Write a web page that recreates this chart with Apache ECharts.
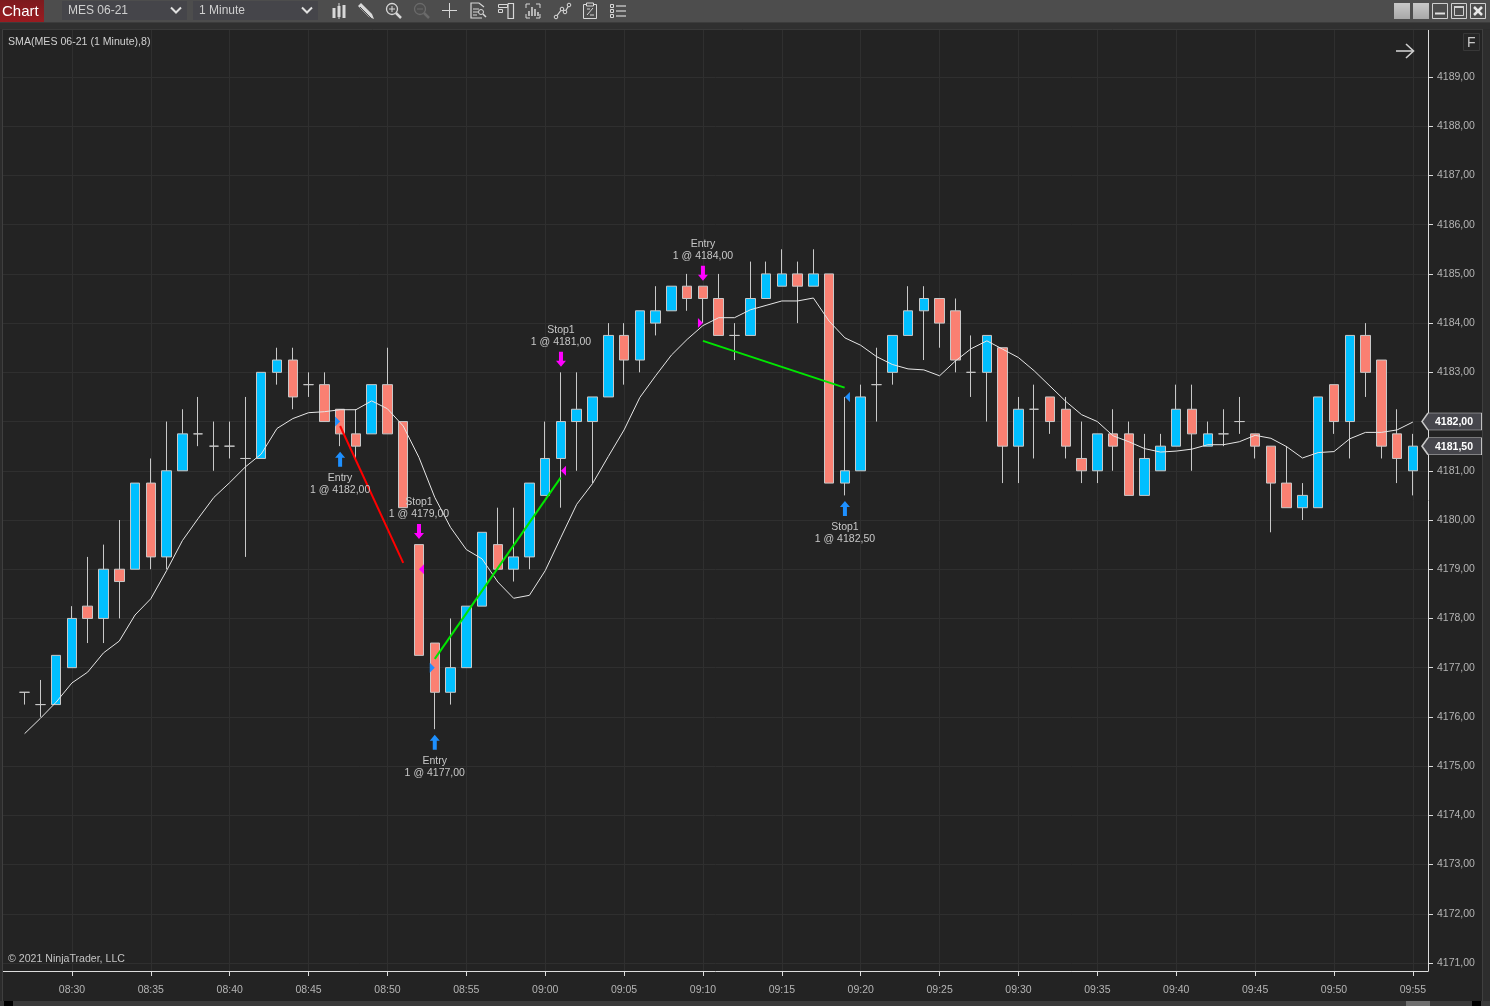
<!DOCTYPE html>
<html>
<head>
<meta charset="utf-8">
<style>html,body{margin:0;padding:0;background:#232323;overflow:hidden}#c{width:1490px;height:1006px}</style>
<script src="https://cdn.jsdelivr.net/npm/echarts@6/dist/echarts.min.js"></script>
</head>
<body>
<div id="c"></div>
<script>
const times = ["08:27","08:28","08:29","08:30","08:31","08:32","08:33","08:34","08:35","08:36","08:37","08:38","08:39","08:40","08:41","08:42","08:43","08:44","08:45","08:46","08:47","08:48","08:49","08:50","08:51","08:52","08:53","08:54","08:55","08:56","08:57","08:58","08:59","09:00","09:01","09:02","09:03","09:04","09:05","09:06","09:07","09:08","09:09","09:10","09:11","09:12","09:13","09:14","09:15","09:16","09:17","09:18","09:19","09:20","09:21","09:22","09:23","09:24","09:25","09:26","09:27","09:28","09:29","09:30","09:31","09:32","09:33","09:34","09:35","09:36","09:37","09:38","09:39","09:40","09:41","09:42","09:43","09:44","09:45","09:46","09:47","09:48","09:49","09:50","09:51","09:52","09:53","09:54","09:55"];
const opens = [4176.5,4176.25,4176.25,4177,4178.25,4178,4179,4179,4180.75,4179.25,4181,4181.75,4181.5,4181.5,4181.25,4181.25,4183,4183.25,4182.75,4182.75,4182.25,4181.75,4181.75,4182.75,4182,4179.5,4177.5,4176.5,4177,4178.25,4179.5,4179,4179.25,4180.5,4181.25,4182,4182,4182.5,4183.75,4183.25,4184,4184.25,4184.75,4184.75,4184.5,4183.75,4183.75,4184.5,4184.75,4185,4184.75,4185,4180.75,4181,4182.75,4183,4183.75,4184.25,4184.5,4184.25,4183,4183,4183.5,4181.5,4182.25,4182.5,4182.25,4181.25,4181,4181.75,4181.75,4180.5,4181,4181.5,4182.25,4181.5,4181.75,4182,4181.75,4181.5,4180.75,4180.25,4180.25,4182.75,4182,4183.75,4183.25,4181.75,4181];
const closes = [4176.5,4176.25,4177.25,4178,4178,4179,4178.75,4180.75,4179.25,4181,4181.75,4181.75,4181.5,4181.5,4181.25,4183,4183.25,4182.5,4182.75,4182,4181.75,4181.5,4182.75,4181.75,4180.25,4177.25,4176.5,4177,4178.25,4179.75,4179,4179.25,4180.75,4181.25,4182,4182.25,4182.5,4183.75,4183.25,4184.25,4184.25,4184.75,4184.5,4184.5,4183.75,4183.75,4184.5,4185,4185,4184.75,4185,4180.75,4181,4182.5,4182.75,4183.75,4184.25,4184.5,4184,4183.25,4183,4183.75,4181.5,4182.25,4182.25,4182,4181.5,4181,4181.75,4181.5,4180.5,4181.25,4181.5,4182.25,4181.75,4181.75,4181.75,4182,4181.5,4180.75,4180.25,4180.5,4182.5,4182,4183.75,4183,4181.5,4181.25,4181.5];
const highs = [4176.5,4176.75,4177.25,4178.25,4179.25,4179.5,4180,4180.75,4181.25,4182,4182.25,4182.5,4182,4182,4182.5,4183,4183.5,4183.5,4183,4183,4182.25,4182.25,4182.75,4183.5,4182,4179.5,4177.5,4178,4178.25,4179.75,4180.25,4180.25,4180.75,4182,4183,4183,4182.5,4184,4184,4184.25,4184.75,4184.75,4185,4184.75,4185,4184,4185.25,4185.25,4185.5,4185.25,4185.5,4185,4182.5,4182.75,4183.5,4183.75,4184.75,4184.75,4184.5,4184.5,4183.75,4183.75,4183.5,4182.5,4182.75,4182.5,4182.5,4182,4181.75,4182.25,4182,4181.75,4181.75,4182.75,4182.75,4182,4182.25,4182.5,4181.75,4181.5,4181.5,4180.75,4182.5,4182.75,4183.75,4184,4183.25,4182.25,4181.75];
const lows = [4176.25,4176,4176.25,4177,4177.5,4177.5,4178,4179,4179,4179,4181,4181.5,4181,4181.25,4179.25,4181.25,4182.75,4182.25,4182.5,4182,4181.5,4181.25,4181.75,4181.75,4180.25,4177.25,4175.75,4176.25,4177,4178.25,4179,4178.75,4179,4180.5,4180.25,4181,4180.75,4182.5,4182.75,4183,4183.75,4184.25,4184.25,4184,4183.75,4183.25,4183.75,4184.5,4184.75,4184,4184.75,4180.75,4180.5,4181,4182,4182.75,4183.75,4183.25,4183.5,4183,4182.5,4182,4180.75,4180.75,4181.25,4181.75,4181.25,4180.75,4180.75,4181,4180.5,4180.5,4181,4181.5,4181,4181.5,4181.5,4181.75,4181.25,4179.75,4180.25,4180,4180.25,4181.75,4181.25,4182.5,4181.25,4180.75,4180.5];
const sma = [4175.66,4175.97,4176.3,4176.69,4176.91,4177.3,4177.54,4178.07,4178.4,4178.97,4179.58,4180.03,4180.46,4180.76,4181.08,4181.34,4181.86,4182.06,4182.18,4182.2,4182.24,4182.24,4182.42,4182.26,4181.91,4181.27,4180.46,4179.85,4179.4,4179.21,4178.74,4178.41,4178.47,4178.97,4179.65,4180.32,4180.74,4181.29,4181.83,4182.49,4182.93,4183.35,4183.67,4183.95,4184.11,4184.11,4184.27,4184.36,4184.45,4184.45,4184.51,4184.04,4183.7,4183.55,4183.32,4183.16,4183.07,4183.05,4182.93,4183.23,4183.48,4183.64,4183.47,4183.3,4183.03,4182.72,4182.41,4182.14,4182,4181.71,4181.59,4181.45,4181.38,4181.4,4181.44,4181.53,4181.53,4181.59,4181.72,4181.66,4181.49,4181.26,4181.37,4181.39,4181.65,4181.78,4181.78,4181.83,4181.99];

const priceTicks = [4171,4172,4173,4174,4175,4176,4177,4178,4179,4180,4181,4182,4183,4184,4185,4186,4187,4188,4189];
const timeTicks = ["08:30","08:35","08:40","08:45","08:50","08:55","09:00","09:05","09:10","09:15","09:20","09:25","09:30","09:35","09:40","09:45","09:50","09:55"];

const execBars = [20,25,26,34,43,52];
const execPrices = [4182,4179,4177,4181,4184,4182.5];
const execNames = ["Entry","Stop1","Entry","Stop1","Entry","Stop1"];
const execBuys = [true,false,true,false,false,true];

const tradeLineX = [[20,24],[26,33.98],[43,51.98]];
const tradeLineY = [[4181.91,4179.13],[4177.18,4180.86],[4183.64,4182.69]];
const tradeLineColors = ["#ff0000","#00e600","#00e600"];

const lastMarkers = [4182,4181.5];

const xMin = -1.369, xMax = 88.96, yMin = 4170.8375, yMax = 4189.955;
const fmt = v => v.toFixed(2).replace('.', ',');
const FONT = '"Liberation Sans", Arial, sans-serif';
const ARROW = 'path://M5 0L10 6L7 6L7 15L3 15L3 6L0 6Z';
const TRI_R = 'path://M0 0L5 5L0 10Z';
const TRI_L = 'path://M5 0L0 5L5 10Z';
const BUY = '#1e90ff', SELL = '#ff00ff';

const xIdx = times.map((t, i) => i);
const candle = xIdx.map(i => [i, opens[i], closes[i], lows[i], highs[i]]);

const arrowData = execBars.map((b, k) => ({
  value: [b, execBuys[k] ? lows[b] : highs[b]],
  symbolRotate: execBuys[k] ? 0 : 180,
  symbolOffset: [0, execBuys[k] ? 13 : -13],
  itemStyle: {color: execBuys[k] ? BUY : SELL, opacity: 1},
  label: {
    show: true,
    position: execBuys[k] ? 'bottom' : 'top',
    distance: execBuys[k] ? 5 : 4,
    formatter: execNames[k] + '\n1 @ ' + fmt(execPrices[k]),
    color: '#c8c8c8', fontSize: 10.5, lineHeight: 12, fontFamily: FONT, align: 'center'
  }
}));
const triData = execBars.map((b, k) => {
  const entry = execNames[k] === 'Entry';
  return {
    value: [b, execPrices[k]],
    symbol: entry ? TRI_R : TRI_L,
    symbolOffset: [entry ? -2.5 : 2.5, 0],
    itemStyle: {color: execBuys[k] ? BUY : SELL, opacity: 1}
  };
});

const lineSeries = tradeLineX.map((xs, k) => ({
  type: 'line', data: [[xs[0], tradeLineY[k][0]], [xs[1], tradeLineY[k][1]]],
  showSymbol: false, symbol: 'none', silent: true, z: 6,
  lineStyle: {color: tradeLineColors[k], width: 2}
}));

const TAG = 'path://M0 8.5L6 0L60 0L60 17L6 17Z';
const tagSeries = {
  type: 'scatter', clip: false, silent: true, z: 8,
  symbol: TAG, symbolSize: [60, 17], symbolOffset: [24, 0],
  itemStyle: {color: '#46464c', borderColor: '#c8c8c8', borderWidth: 1, opacity: 1},
  data: lastMarkers.map(p => ({
    value: [xMax, p],
    label: {show: true, position: 'inside', offset: [2, 1], formatter: fmt(p), color: '#fff', fontWeight: 'bold', fontSize: 10.5, fontFamily: FONT}
  }))
};

/* ---------- chrome (toolbar, frame) ---------- */
const ln = (x1,y1,x2,y2,c,w) => ({type:'line',silent:true,shape:{x1,y1,x2,y2},style:{stroke:c||'#d0d0d0',lineWidth:w||1}});
const rc = (x,y,width,height,fill,stroke) => ({type:'rect',silent:true,shape:{x,y,width,height},style:{fill:fill||'none',stroke:stroke||'none',lineWidth:1}});
const pl = (points,c,w) => ({type:'polyline',silent:true,shape:{points},style:{stroke:c||'#d0d0d0',lineWidth:w||1,fill:'none'}});
const pg = (points,f,c) => ({type:'polygon',silent:true,shape:{points},style:{fill:f,stroke:c||'none',lineWidth:1}});
const tx = (x,y,text,color,size,extra) => ({type:'text',silent:true,x,y,style:Object.assign({text,fill:color,font:size+'px '+FONT,verticalAlign:'middle'},extra||{})});
const I = '#d8d8d8';
const chrome = [
  rc(0,0,1490,22,'#4d4d4d'),
  rc(0,22,1490,1,'#3c3c3c'),
  rc(0,23,1490,6,'#303030'),
  rc(0,29,2,972,'#2b2b2b'),
  rc(1483,29,7,972,'#2d2d2d'),
  ln(2.5,29,2.5,1001,'#3f3f3f'),
  ln(2,29.5,1483,29.5,'#3a3a3a'),
  ln(1482.5,29,1482.5,1001,'#3f3f3f'),
  rc(0,1001,1490,5,'#3a3a3a'),
  rc(4,1001,9,5,'#000000'),
  rc(1406,1001,24,5,'#6e6e6e'),
  rc(1472,1001,9,5,'#000000'),
  {type:'rect',silent:true,shape:{x:0,y:0,width:44,height:22},style:{fill:{type:'linear',x:0,y:0,x2:0,y2:1,colorStops:[{offset:0,color:'#7c1a1e'},{offset:1,color:'#9a1b20'}]}}},
  tx(2,12,'Chart','#ffffff',15),
  rc(62,1,125,19,'#45454a'), tx(68,11,'MES 06-21','#cfcfcf',12),
  pl([[171,7.5],[176,12.5],[181,7.5]],'#e0e0e0',2),
  rc(193,1,125,19,'#45454a'), tx(199,11,'1 Minute','#cfcfcf',12),
  pl([[302,7.5],[307,12.5],[312,7.5]],'#e0e0e0',2),
  /* bars icon */
  ln(334,8,334,18,I,3), ln(339,3,339,19,I,1), ln(339,6,339,17,I,3), ln(344,5,344,18,I,3),
  /* pencil */
  pg([[358,6],[361,3],[372,14],[374,19],[369,17]],I),
  ln(360,7,371,18,'#4d4d4d',1),
  /* zoom in / out */
  {type:'circle',silent:true,shape:{cx:392,cy:9,r:5.5},style:{fill:'none',stroke:I,lineWidth:1.3}},
  ln(389,9,395,9,I), ln(392,6,392,12,I), ln(396,13,401,18,I,2.5),
  {type:'circle',silent:true,shape:{cx:420,cy:9,r:5.5},style:{fill:'none',stroke:'#6a6a6a',lineWidth:1.3}},
  ln(417,9,423,9,'#6a6a6a'), ln(424,13,429,18,'#6a6a6a',2.5),
  /* crosshair */
  ln(442,10.5,457,10.5,I), ln(449.5,3,449.5,18,I),
  /* data box */
  pl([[484,7],[479,3],[471,3],[471,18],[482,18]],I,1.2),
  ln(473,9,479,9,I), ln(473,12,478,12,I), ln(473,15,477,15,I),
  {type:'circle',silent:true,shape:{cx:481,cy:12,r:2.5},style:{fill:'none',stroke:I,lineWidth:1}}, ln(483,14,486,17,I,1.5),
  /* properties */
  rc(498.5,4.5,9,3,'none',I), rc(498.5,9.5,4,3,'none',I), pl([[508,3.5],[513.5,3.5],[513.5,18.5],[508,18.5],[508,3.5]],I,1.2),
  /* indicators */
  pl([[526,8],[526,4],[530,4]],I), pl([[526,14],[526,18],[530,18]],I), pl([[536,4],[540,4],[540,8]],I), pl([[536,18],[540,18],[540,14]],I),
  ln(529,11,529,16,I,1.5), ln(532,7,532,16,I,1.5), ln(535,9,535,16,I,1.5), ln(538,12,538,16,I,1.5),
  /* strategies */
  pl([[556,17],[562,9],[565,12],[569,5]],I,1.2),
  {type:'circle',silent:true,shape:{cx:556,cy:17,r:1.8},style:{fill:'#4d4d4d',stroke:I}},
  {type:'circle',silent:true,shape:{cx:562,cy:9,r:1.8},style:{fill:'#4d4d4d',stroke:I}},
  {type:'circle',silent:true,shape:{cx:565,cy:12,r:1.8},style:{fill:'#4d4d4d',stroke:I}},
  {type:'circle',silent:true,shape:{cx:569,cy:5,r:1.8},style:{fill:'#4d4d4d',stroke:I}},
  /* template */
  rc(583.5,4.5,13,14,'none',I), rc(586.5,3,7,3,'#4d4d4d',I), ln(587,15,593,8,I), ln(587,9,590,9,I), ln(590,15,594,15,I),
  /* list */
  rc(610.5,4.5,3,3,'none',I), rc(610.5,9.5,3,3,'none',I), rc(610.5,14.5,3,3,'none',I),
  ln(616,6,626,6,I,1.2), ln(616,11,626,11,I,1.2), ln(616,16,626,16,I,1.2),
  /* window buttons */
  {type:'rect',silent:true,shape:{x:1394,y:3,width:16,height:16},style:{fill:{type:'linear',x:0,y:0,x2:0,y2:1,colorStops:[{offset:0,color:'#c8c8c8'},{offset:1,color:'#a8a8a8'}]}}},
  {type:'rect',silent:true,shape:{x:1413,y:3,width:16,height:16},style:{fill:{type:'linear',x:0,y:0,x2:0,y2:1,colorStops:[{offset:0,color:'#c8c8c8'},{offset:1,color:'#a8a8a8'}]}}},
  rc(1432.5,3.5,15,15,'none','#d0d0d0'), ln(1435,13.5,1445,13.5,'#e0e0e0',2),
  rc(1451.5,3.5,15,15,'none','#d0d0d0'), rc(1454.5,6.5,9,9,'none','#d0d0d0'), ln(1454,7,1464,7,'#d0d0d0',2),
  rc(1470.5,3.5,15,15,'none','#d0d0d0'), ln(1474,7,1482,15,'#e8e8e8',2.5), ln(1482,7,1474,15,'#e8e8e8',2.5),
  /* chart overlays */
  tx(8,42,'SMA(MES 06-21 (1 Minute),8)','#d0d0d0',10.6),
  tx(8,959,'© 2021 NinjaTrader, LLC','#c4c4c4',10.6),
  ln(1396,51,1413,51,'#cfcfcf',1.6), pl([[1406,44],[1413.5,51],[1406,58]],'#cfcfcf',1.6),
  rc(1463.5,33.5,16,17,'#262626','#383838'),
  tx(1467,43,'F','#c8c8c8',14)
].map(o => Object.assign({z:100}, o));

const chart = echarts.init(document.getElementById('c'), null, {renderer:'canvas', width:1490, height:1006});
chart.setOption({
  animation: false,
  backgroundColor: '#232323',
  grid: {left: 3, right: 62, top: 30, bottom: 35, containLabel: false},
  xAxis: {
    type: 'value', min: xMin, max: xMax, scale: true,
    axisLine: {onZero: false, lineStyle: {color: '#dcdcdc', width: 1}},
    axisTick: {show: true, length: 5, lineStyle: {color: '#dcdcdc'}, customValues: timeTicks.map(t => times.indexOf(t))},
    axisLabel: {color: '#b4b4b4', fontSize: 10.5, fontFamily: FONT, margin: 14, customValues: timeTicks.map(t => times.indexOf(t)), formatter: v => times[Math.round(v)]},
    splitLine: {show: true, lineStyle: {color: '#2f2f2f', width: 1}}
  },
  yAxis: {
    type: 'value', position: 'right', min: yMin, max: yMax, scale: true,
    axisLine: {show: true, onZero: false, lineStyle: {color: '#dcdcdc', width: 1}},
    axisTick: {show: true, length: 5, lineStyle: {color: '#dcdcdc'}, customValues: priceTicks},
    axisLabel: {color: '#b4b4b4', fontSize: 10.5, fontFamily: FONT, margin: 9, padding: [4, 0, 0, 0], customValues: priceTicks, formatter: v => fmt(v)},
    splitLine: {show: true, lineStyle: {color: '#2f2f2f', width: 1}}
  },
  tooltip: {show: false},
  series: [
    {
      type: 'candlestick', data: candle, encode: {x: 0, y: [1, 2, 3, 4]}, barWidth: 10, silent: true, clip: false, z: 3,
      itemStyle: {color: '#00bfff', color0: '#fa8072', borderColor: '#c8c8c8', borderColor0: '#c8c8c8', borderColorDoji: '#c8c8c8', borderWidth: 1}
    },
    {type: 'line', data: xIdx.map(i => [i, sma[i]]), showSymbol: false, symbol: 'none', silent: true, z: 5, lineStyle: {color: '#e6e6e6', width: 1}},
    ...lineSeries,
    {type: 'scatter', data: arrowData, symbol: ARROW, symbolSize: [10, 15], silent: true, z: 7, clip: false},
    {type: 'scatter', data: triData, symbolSize: [5, 10], silent: true, z: 7, clip: false},
    tagSeries
  ],
  graphic: {elements: chrome}
});
</script>
</body>
</html>
